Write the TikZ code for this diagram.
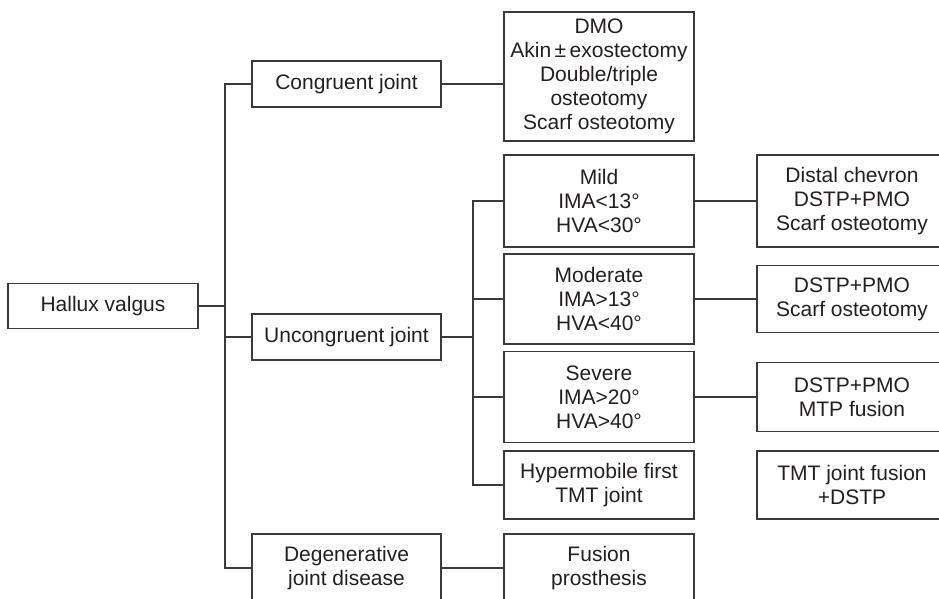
\documentclass[tikz,border=0pt]{standalone}
\usepackage{fontspec}
\setmainfont{Liberation Sans}
\definecolor{linec}{RGB}{62,57,57}
\definecolor{textc}{RGB}{35,31,32}
\begin{document}
\begin{tikzpicture}[x=1pt,y=-1pt,
  box/.style={draw=linec,line width=1.6pt,rectangle,inner sep=0pt,align=center,
    text=textc,font=\fontsize{21}{24}\selectfont,minimum width=190pt},
  conn/.style={draw=linec,line width=1.6pt}]
\useasboundingbox (0,0) rectangle (939,598);
\clip (0,0) rectangle (939,598);
\node[box,minimum height=45pt] (hv) at (103,306) {Hallux valgus};
\node[box,minimum width=189pt,minimum height=46pt] (cong) at (346.5,84) {Congruent joint};
\node[box,minimum width=189pt,minimum height=46pt] (uncong) at (346.5,337) {Uncongruent joint};
\node[box,minimum width=189pt,minimum height=68pt] (degen) at (346.5,568) {Degenerative\\joint disease};
\node[box,minimum height=129pt] (dmo) at (599,76.5) {DMO\\Akin\,±\,exostectomy\\Double/triple\\osteotomy\\Scarf osteotomy};
\node[box,minimum height=92pt] (mild) at (599,201) {Mild\\IMA<13°\\HVA<30°};
\node[box,minimum height=90pt] (mod) at (599,299) {Moderate\\IMA>13°\\HVA<40°};
\node[box,minimum height=91pt] (sev) at (599,397) {Severe\\IMA>20°\\HVA>40°};
\node[box,minimum height=68pt] (hyp) at (599,485) {Hypermobile first\\TMT joint};
\node[box,minimum height=68pt] (fus) at (599,568) {Fusion\\prosthesis};
\node[box,minimum height=92pt] (dc) at (852,201) {Distal chevron\\DSTP+PMO\\Scarf osteotomy};
\node[box,minimum height=67pt] (d2) at (852,299) {DSTP+PMO\\Scarf osteotomy};
\node[box,minimum height=69pt] (d3) at (852,397) {DSTP+PMO\\MTP fusion};
\node[box,minimum height=68pt] (tmt) at (852,485) {TMT joint fusion\\+DSTP};
\coordinate (j1) at (225,306);
\coordinate (j2) at (473,337);
\draw[conn] (hv.east) -- (j1);
\draw[conn] (cong.west) -| (j1) |- (degen.west);
\draw[conn] (uncong.west) -- (uncong.west -| j1);
\draw[conn] (cong.east) -- (cong.east -| dmo.west);
\draw[conn] (uncong.east) -- (j2);
\draw[conn] (mild.west) -| (j2) |- (hyp.west);
\draw[conn] (mod.west) -- (mod.west -| j2);
\draw[conn] (sev.west) -- (sev.west -| j2);
\draw[conn] (mild.east) -- (dc.west);
\draw[conn] (mod.east) -- (d2.west);
\draw[conn] (sev.east) -- (d3.west);
\draw[conn] (degen.east) -- (fus.west);
\end{tikzpicture}
\end{document}
